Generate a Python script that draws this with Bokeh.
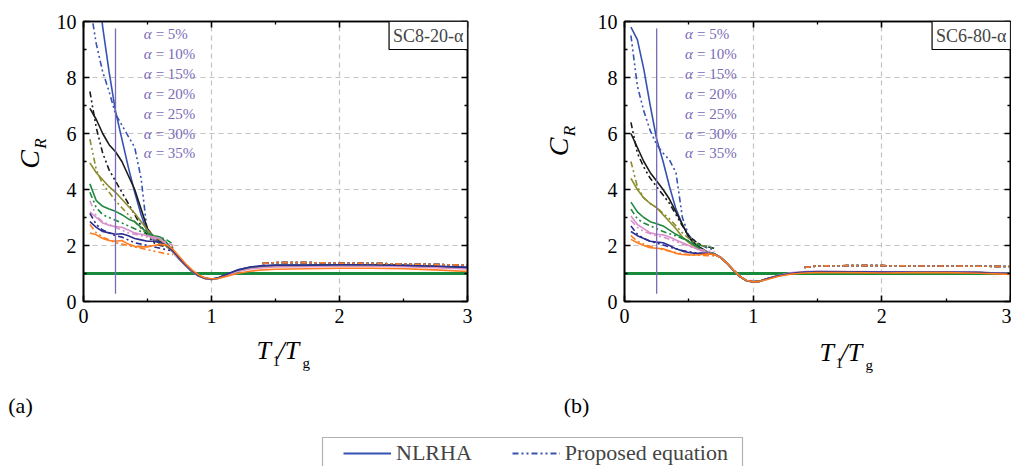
from bokeh.plotting import figure
from bokeh.layouts import column, row
from bokeh.models import (Range1d, FixedTicker, LinearAxis, Label, Legend,
                          LegendItem, BoxAnnotation)
from bokeh.embed import file_html
from bokeh.resources import INLINE
from bokeh.core.properties import value

SERIF = "Liberation Serif"

# ---------------------------------------------------------------- data
ALPHA_TEXT = ["= 5%", "= 10%", "= 15%", "= 20%", "= 25%", "= 30%", "= 35%"]
ALPHA_Y = [9.55, 8.84, 8.13, 7.42, 6.71, 6.0, 5.29]
COLORS = ["#3652b2", "#1b1b1b", "#8c8c2e", "#1f8a3f", "#d890cc", "#2c2f8f", "#ff7c1f"]

X_TICKS = [0, 1, 2, 3]
Y_TICKS = [0, 2, 4, 6, 8, 10]

# T1/Tg sample points of the NLRHA curves
X_NL = [0.05, 0.1, 0.15, 0.2, 0.25, 0.3, 0.35, 0.4, 0.45, 0.5, 0.55, 0.6,
        0.65, 0.7, 0.75, 0.8, 0.85, 0.9, 0.95, 1.0, 1.05, 1.1, 1.2, 1.3,
        1.4, 1.5, 1.75, 2.0, 2.25, 2.5, 2.75, 3.0]
# proposed equation: short-period branch and long-period branch
X_EQ_SHORT = [0.05, 0.1, 0.15, 0.2, 0.25, 0.3, 0.35, 0.4, 0.45, 0.5, 0.55, 0.6, 0.65, 0.7]
X_EQ_LONG = [1.4, 1.5, 1.75, 2.0, 2.25, 2.5, 2.75, 3.0]

# ---- (a) SC8-20-alpha : NLRHA
A_NL_05 = [14.0, 11.8, 9.8, 8.2, 6.8, 5.8, 4.8, 3.9, 3.1, 2.45, 2.2, 2.12,
           2.0, 1.78, 1.52, 1.28, 1.07, 0.92, 0.83, 0.80, 0.84, 0.94, 1.12, 1.22,
           1.26, 1.28, 1.29, 1.31, 1.31, 1.29, 1.26, 1.22]
A_NL_10 = [6.9, 6.5, 6.0, 5.6, 5.35, 5.0, 4.5, 4.0, 3.3, 2.6, 2.3, 2.15,
           1.98, 1.76, 1.5, 1.27, 1.06, 0.91, 0.82, 0.79, 0.83, 0.92, 1.1, 1.2,
           1.25, 1.27, 1.28, 1.3, 1.3, 1.28, 1.25, 1.2]
A_NL_15 = [4.95, 4.6, 4.35, 4.1, 3.9, 3.65, 3.4, 3.15, 2.85, 2.55, 2.3, 2.2,
           1.97, 1.75, 1.5, 1.26, 1.06, 0.91, 0.82, 0.79, 0.82, 0.91, 1.08, 1.19,
           1.24, 1.26, 1.27, 1.29, 1.29, 1.27, 1.24, 1.19]
A_NL_20 = [4.2, 3.6, 3.4, 3.3, 3.22, 3.1, 2.95, 2.85, 2.65, 2.45, 2.35, 2.3,
           2.1, 1.8, 1.52, 1.27, 1.07, 0.92, 0.83, 0.8, 0.83, 0.92, 1.09, 1.2,
           1.26, 1.29, 1.3, 1.3, 1.3, 1.28, 1.25, 1.2]
A_NL_25 = [3.2, 3.0, 2.8, 2.72, 2.68, 2.65, 2.55, 2.45, 2.4, 2.35, 2.3, 2.25,
           2.0, 1.77, 1.51, 1.27, 1.06, 0.91, 0.82, 0.79, 0.82, 0.9, 1.06, 1.16,
           1.21, 1.23, 1.24, 1.26, 1.26, 1.24, 1.21, 1.16]
A_NL_30 = [2.85, 2.65, 2.5, 2.45, 2.4, 2.42, 2.35, 2.25, 2.2, 2.15, 2.15, 2.1,
           2.0, 1.8, 1.54, 1.3, 1.08, 0.92, 0.83, 0.8, 0.84, 0.94, 1.12, 1.23,
           1.28, 1.3, 1.3, 1.31, 1.31, 1.29, 1.26, 1.22]
A_NL_35 = [2.45, 2.38, 2.25, 2.18, 2.15, 2.18, 2.05, 1.97, 1.95, 1.95, 2.0, 2.04,
           2.02, 1.86, 1.6, 1.34, 1.12, 0.95, 0.85, 0.81, 0.82, 0.88, 1.0, 1.08,
           1.13, 1.15, 1.17, 1.19, 1.19, 1.17, 1.13, 1.07]

# ---- (a) proposed equation
A_EQ_05 = [10.6, 9.2, 8.2, 7.5, 6.7, 6.3, 5.9, 5.5, 4.4, 2.4, 2.2, 2.1, 2.0, 1.9]
A_EQ_10 = [7.5, 6.2, 5.3, 4.7, 4.3, 3.9, 3.5, 3.1, 2.7, 2.35, 2.1, 2.0, 1.95, 1.9]
A_EQ_15 = [5.8, 4.7, 4.2, 3.9, 3.6, 3.35, 3.1, 2.85, 2.6, 2.4, 2.2, 2.05, 2.0, 1.95]
A_EQ_20 = [3.9, 3.35, 3.1, 3.0, 2.9, 2.8, 2.7, 2.6, 2.5, 2.4, 2.35, 2.3, 2.2, 2.05]
A_EQ_25 = [3.6, 3.05, 2.85, 2.75, 2.65, 2.55, 2.45, 2.4, 2.35, 2.3, 2.25, 2.2, 2.1, 2.0]
A_EQ_30 = [3.15, 2.75, 2.55, 2.45, 2.35, 2.3, 2.2, 2.1, 2.05, 2.0, 1.95, 1.9, 1.85, 1.8]
A_EQ_35 = [2.75, 2.45, 2.3, 2.2, 2.1, 2.05, 2.0, 1.95, 1.9, 1.85, 1.8, 1.75, 1.7, 1.68]
A_EQ_LONG = [1.36, 1.39, 1.39, 1.37, 1.36, 1.34, 1.32, 1.3]

# ---- (b) SC6-80-alpha : NLRHA
B_NL_05 = [9.8, 9.35, 8.3, 7.0, 5.8, 5.0, 4.1, 3.3, 2.75, 2.3, 2.0, 1.85,
           1.75, 1.7, 1.57, 1.36, 1.11, 0.89, 0.75, 0.71, 0.73, 0.8, 0.93, 1.01,
           1.05, 1.07, 1.06, 1.05, 1.06, 1.06, 1.04, 1.0]
B_NL_10 = [6.0, 5.5, 5.0, 4.6, 4.3, 4.0, 3.65, 3.2, 2.75, 2.3, 2.05, 1.9,
           1.75, 1.7, 1.56, 1.35, 1.1, 0.88, 0.74, 0.7, 0.72, 0.8, 0.92, 1.0,
           1.04, 1.06, 1.05, 1.04, 1.05, 1.05, 1.03, 0.99]
B_NL_15 = [4.4, 4.0, 3.7, 3.5, 3.35, 3.1, 2.85, 2.6, 2.3, 2.1, 1.95, 1.85,
           1.74, 1.69, 1.56, 1.35, 1.1, 0.88, 0.74, 0.7, 0.72, 0.79, 0.92, 1.0,
           1.04, 1.05, 1.05, 1.04, 1.04, 1.04, 1.02, 0.98]
B_NL_20 = [3.55, 3.2, 3.0, 2.85, 2.78, 2.7, 2.55, 2.4, 2.28, 2.15, 2.0, 1.85,
           1.75, 1.7, 1.56, 1.35, 1.1, 0.88, 0.74, 0.7, 0.72, 0.8, 0.93, 1.01,
           1.05, 1.06, 1.06, 1.05, 1.05, 1.05, 1.03, 0.99]
B_NL_25 = [3.05, 2.75, 2.6, 2.45, 2.4, 2.38, 2.3, 2.2, 2.1, 2.0, 1.9, 1.8,
           1.74, 1.69, 1.56, 1.35, 1.1, 0.88, 0.74, 0.7, 0.72, 0.8, 0.94, 1.03,
           1.07, 1.08, 1.07, 1.06, 1.06, 1.06, 1.04, 1.0]
B_NL_30 = [2.5, 2.35, 2.25, 2.15, 2.12, 2.1, 2.0, 1.88, 1.8, 1.75, 1.72, 1.72,
           1.72, 1.68, 1.56, 1.35, 1.1, 0.88, 0.74, 0.7, 0.72, 0.8, 0.93, 1.01,
           1.05, 1.06, 1.06, 1.05, 1.05, 1.05, 1.03, 0.99]
B_NL_35 = [2.22, 2.1, 2.0, 1.92, 1.9, 1.88, 1.8, 1.72, 1.68, 1.66, 1.66, 1.68,
           1.7, 1.68, 1.56, 1.36, 1.11, 0.89, 0.75, 0.7, 0.72, 0.78, 0.9, 0.98,
           1.02, 1.03, 1.03, 1.02, 1.03, 1.03, 1.01, 0.97]

# ---- (b) proposed equation
B_EQ_05 = [9.5, 7.7, 6.8, 6.1, 5.6, 5.3, 5.05, 4.6, 3.0, 2.35, 2.15, 2.0, 1.9, 1.85]
B_EQ_10 = [6.4, 5.3, 4.8, 4.4, 4.1, 3.8, 3.5, 3.1, 2.7, 2.35, 2.15, 2.0, 1.95, 1.9]
B_EQ_15 = [5.0, 4.1, 3.7, 3.5, 3.35, 3.15, 2.95, 2.7, 2.45, 2.25, 2.1, 2.0, 1.95, 1.9]
B_EQ_20 = [3.3, 2.95, 2.8, 2.7, 2.6, 2.5, 2.42, 2.35, 2.25, 2.15, 2.05, 2.0, 1.95, 1.9]
B_EQ_25 = [2.9, 2.65, 2.5, 2.42, 2.35, 2.3, 2.22, 2.15, 2.05, 1.98, 1.9, 1.85, 1.8, 1.78]
B_EQ_30 = [2.7, 2.4, 2.25, 2.15, 2.08, 2.02, 1.95, 1.88, 1.82, 1.78, 1.74, 1.72, 1.7, 1.68]
B_EQ_35 = [2.35, 2.15, 2.05, 1.97, 1.9, 1.85, 1.8, 1.75, 1.7, 1.68, 1.66, 1.65, 1.64, 1.63]
B_EQ_LONG = [1.22, 1.27, 1.28, 1.28, 1.27, 1.27, 1.26, 1.25]

REF_LEVEL = 1.0          # C_R = 1 reference line
MARK_X = 0.25            # vertical marker line
MARK_Y = [0.28, 9.75]

DASHDOT = "6 3 2 3 2 3"
PURPLE = "#7a6ab8"
PANEL_H = 335


# ---------------------------------------------------------------- helpers
def style_axis(ax, labelled):
    ax.axis_line_width = 1.6
    ax.axis_line_color = "black"
    ax.major_tick_in = 6
    ax.major_tick_out = 0
    ax.minor_tick_in = 3
    ax.minor_tick_out = 0
    ax.major_tick_line_width = 1.6
    ax.minor_tick_line_width = 1.3
    ax.major_tick_line_color = "black"
    ax.minor_tick_line_color = "black"
    if labelled:
        ax.major_label_text_font = SERIF
        ax.major_label_text_font_size = "20px"
        ax.major_label_text_color = "black"
        ax.major_label_standoff = 7
    else:
        ax.major_label_text_font_size = "1px"
        ax.major_label_text_color = None
        ax.major_label_standoff = 0


def make_panel(width, b_left, b_right, nl, eq, eq_long, box_text):
    p = figure(width=width, height=PANEL_H, output_backend="svg", toolbar_location=None,
               x_range=Range1d(0, 3), y_range=Range1d(0, 10),
               min_border_left=b_left, min_border_right=b_right,
               min_border_top=21, min_border_bottom=PANEL_H - 301,
               background_fill_color="white", border_fill_color="white")
    p.outline_line_color = "black"
    p.outline_line_width = 1.6

    xt = FixedTicker(ticks=X_TICKS, minor_ticks=[0.5, 1.5, 2.5])
    yt = FixedTicker(ticks=Y_TICKS, minor_ticks=[1, 3, 5, 7, 9])
    p.xaxis.ticker = xt
    p.yaxis.ticker = yt
    style_axis(p.xaxis[0], True)
    style_axis(p.yaxis[0], True)
    top = LinearAxis(ticker=FixedTicker(ticks=X_TICKS, minor_ticks=[0.5, 1.5, 2.5]))
    right = LinearAxis(ticker=FixedTicker(ticks=Y_TICKS, minor_ticks=[1, 3, 5, 7, 9]))
    style_axis(top, False)
    style_axis(right, False)
    p.add_layout(top, "above")
    p.add_layout(right, "right")

    for g in (p.xgrid[0], p.ygrid[0]):
        g.grid_line_color = "#c2c2c2"
        g.grid_line_dash = "5 4"
        g.grid_line_width = 1.2
    p.xgrid[0].ticker = xt
    p.ygrid[0].ticker = yt

    # reference level C_R = 1
    p.line([0, 3], [REF_LEVEL, REF_LEVEL], line_color="#178a3c", line_width=3.2)

    for ys, ye, c in zip(nl, eq, COLORS):
        p.line(X_NL, ys, line_color=c, line_width=1.6)
        p.line(X_EQ_SHORT, ye, line_color=c, line_width=1.6, line_dash=DASHDOT)
        p.line(X_EQ_LONG, eq_long, line_color=c, line_width=1.6, line_dash=DASHDOT)

    p.line([MARK_X, MARK_X], MARK_Y, line_color=PURPLE, line_width=1.3)

    # damping-ratio labels
    p.text(x=[0.47] * 7, y=ALPHA_Y, text=["\u03b1"] * 7, text_font=value(SERIF),
           text_font_style="italic", text_font_size="15px", text_color=PURPLE,
           text_baseline="middle")
    p.text(x=[0.47] * 7, y=ALPHA_Y, text=ALPHA_TEXT, text_font=value(SERIF),
           text_font_size="15px", text_color=PURPLE, text_baseline="middle",
           x_offset=12)

    p.add_layout(Label(x=3, y=10, text=box_text, text_align="right",
                       text_baseline="top", text_font=SERIF, text_font_size="18px",
                       border_line_color="black", border_line_width=1.2,
                       background_fill_color="white", padding=4))
    return p


def strip(w, h):
    """A blank canvas whose data units are pixels (y grows downward)."""
    s = figure(width=w, height=h, output_backend="svg", toolbar_location=None,
               x_range=Range1d(0, w), y_range=Range1d(h, 0),
               x_axis_location=None, y_axis_location=None,
               min_border=0, outline_line_color=None,
               background_fill_color="white", border_fill_color="white")
    s.grid.visible = False
    return s


def put(s, x, y, text, size, style="normal", angle=0.0, align="left"):
    s.text(x=[x], y=[y], text=[text], text_font=value(SERIF), text_font_size=size,
           text_font_style=style, angle=angle, text_align=align,
           text_baseline="middle", text_color="black")


def y_title(s, cx, cy):
    put(s, cx, cy, "C", "28px", "italic", angle=1.5708, align="center")
    put(s, cx + 11, cy - 19, "R", "17px", "italic", angle=1.5708, align="center")


def x_title(s, x, y):
    put(s, x, y, "T", "26px", "italic")
    put(s, x + 16, y + 10, "1", "15px")
    put(s, x + 21, y, "/T", "26px", "italic")
    put(s, x + 46, y + 12, "g", "15px")


pa = make_panel(455, 33, 38,
                [A_NL_05, A_NL_10, A_NL_15, A_NL_20, A_NL_25, A_NL_30, A_NL_35],
                [A_EQ_05, A_EQ_10, A_EQ_15, A_EQ_20, A_EQ_25, A_EQ_30, A_EQ_35],
                A_EQ_LONG, "SC8-20-\u03b1")
pb = make_panel(430, 43, 1,
                [B_NL_05, B_NL_10, B_NL_15, B_NL_20, B_NL_25, B_NL_30, B_NL_35],
                [B_EQ_05, B_EQ_10, B_EQ_15, B_EQ_20, B_EQ_25, B_EQ_30, B_EQ_35],
                B_EQ_LONG, "SC6-80-\u03b1")

# y-axis titles beside each panel
ya = strip(50, PANEL_H)
y_title(ya, 29, 165)
yb = strip(76, PANEL_H)
y_title(yb, 53, 150)

# x-axis titles and panel tags
xs = strip(1011, 85)
x_title(xs, 256, 15)
x_title(xs, 819, 17)
put(xs, 20, 70, "(a)", "22px", align="center")
put(xs, 576, 70, "(b)", "22px", align="center")

# ---------------------------------------------------------------- legend strip
pl = strip(1011, 46)
r_nl = pl.line([-100, -90], [-100, -100], line_color=COLORS[0], line_width=2.2)
r_eq = pl.line([-100, -90], [-100, -100], line_color=COLORS[0], line_width=2.2,
               line_dash=DASHDOT)
pl.add_layout(BoxAnnotation(left=322, right=742, top=17, bottom=70,
                            fill_alpha=0, line_color="black", line_width=1.2))
leg = Legend(items=[LegendItem(label="NLRHA", renderers=[r_nl]),
                    LegendItem(label="Proposed equation", renderers=[r_eq])],
             orientation="horizontal", location=(343, 0),
             label_text_font=SERIF, label_text_font_size="22px",
             label_height=20, glyph_height=20,
             glyph_width=48, label_standoff=5, spacing=40, padding=0, margin=0,
             border_line_alpha=0, background_fill_alpha=0)
pl.add_layout(leg, "center")

layout = column(row(ya, pa, yb, pb), xs, pl)
open("out.html", "w").write(file_html(layout, INLINE))
